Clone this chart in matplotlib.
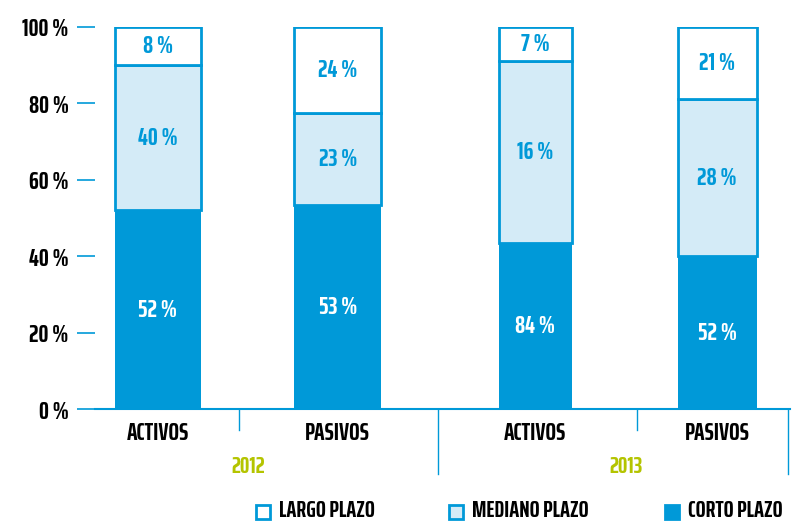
import matplotlib.pyplot as plt
from matplotlib.patches import Rectangle

# datos
grupos = ['ACTIVOS', 'PASIVOS', 'ACTIVOS', 'PASIVOS']
anios = ['2012', '2013']
corto = [52, 53.5, 43.5, 40]
mediano = [38, 24, 47.5, 41]
largo = [10, 22.5, 9, 19]
etiq_corto = ['52 %', '53 %', '84 %', '52 %']
etiq_mediano = ['40 %', '23 %', '16 %', '28 %']
etiq_largo = ['8 %', '24 %', '7 %', '21 %']
yticks = [0, 20, 40, 60, 80, 100]
ytick_labels = ['0 %', '20 %', '40 %', '60 %', '80 %', '100 %']

# posiciones y estilos
xpos = [0.595, 1.497, 2.488, 3.40]
anchos = [0.434, 0.434, 0.365, 0.395]
azul = '#0099d8'
celeste = '#d4ebf7'
verde = '#b4c400'

plt.rcParams['font.family'] = ['Saira ExtraCondensed', 'Barlow Condensed',
                               'Roboto Condensed', 'DejaVu Sans']
plt.rcParams['font.weight'] = 'bold'

fig = plt.figure(figsize=(7.92, 5.23), dpi=100)
ax = fig.add_axes([95 / 792, (523 - 409.3) / 523, 695 / 792, 382.6 / 523])

ax.bar(xpos, corto, width=anchos, color=azul, linewidth=0)
ax.bar(xpos, mediano, width=anchos, bottom=corto, color=celeste,
       edgecolor=azul, linewidth=2)
base_largo = [c + m for c, m in zip(corto, mediano)]
ax.bar(xpos, largo, width=anchos, bottom=base_largo, color='white',
       edgecolor=azul, linewidth=2)

for i, x in enumerate(xpos):
    ax.text(x, corto[i] / 2, etiq_corto[i], ha='center', va='center',
            color='white', fontsize=18, fontweight='bold')
    ax.text(x, corto[i] + mediano[i] / 2, etiq_mediano[i], ha='center', va='center',
            color=azul, fontsize=18, fontweight='bold')
    ax.text(x, base_largo[i] + largo[i] / 2, etiq_largo[i], ha='center', va='center',
            color=azul, fontsize=18, fontweight='bold')

ax.set_xlim(0.28, 3.765)
ax.set_ylim(0, 100)
ax.set_yticks(yticks)
ax.set_yticklabels(ytick_labels, fontsize=18, fontweight='bold')
ax.tick_params(axis='y', direction='out', length=13, width=1.2, color=azul, pad=6)
ax.set_xticks([])
for s in ['left', 'top', 'right']:
    ax.spines[s].set_visible(False)
ax.spines['bottom'].set_color(azul)
ax.spines['bottom'].set_linewidth(1.5)

# separadores y etiquetas de categorias
trans = ax.get_xaxis_transform()
for xd, largo_linea in [(1.0, -0.055), (2.0, -0.17), (3.0, -0.055), (3.755, -0.17)]:
    ax.plot([xd, xd], [0, largo_linea], color=azul, lw=1, transform=trans, clip_on=False)
for i, x in enumerate(xpos):
    ax.text(x, -0.062, grupos[i], transform=trans, ha='center', va='center',
            fontsize=18, fontweight='bold', color='black')
ax.text((xpos[0] + xpos[1]) / 2, -0.151, anios[0], transform=trans, ha='center',
        va='center', fontsize=17, fontweight='bold', color=verde)
ax.text((xpos[2] + xpos[3]) / 2, -0.151, anios[1], transform=trans, ha='center',
        va='center', fontsize=17, fontweight='bold', color=verde)

# leyenda
leyenda = [('LARGO PLAZO', 'white', 256), ('MEDIANO PLAZO', celeste, 449),
           ('CORTO PLAZO', azul, 665)]
for texto, color, px in leyenda:
    fig.patches.append(Rectangle((px / 792, (523 - 519) / 523), 14 / 792, 14 / 523,
                                 transform=fig.transFigure, facecolor=color,
                                 edgecolor=azul, linewidth=2))
    fig.text((px + 23) / 792, (523 - 511) / 523, texto, ha='left', va='center',
             fontsize=17, fontweight='bold', color='black')

fig.savefig('out.png', dpi=100)
